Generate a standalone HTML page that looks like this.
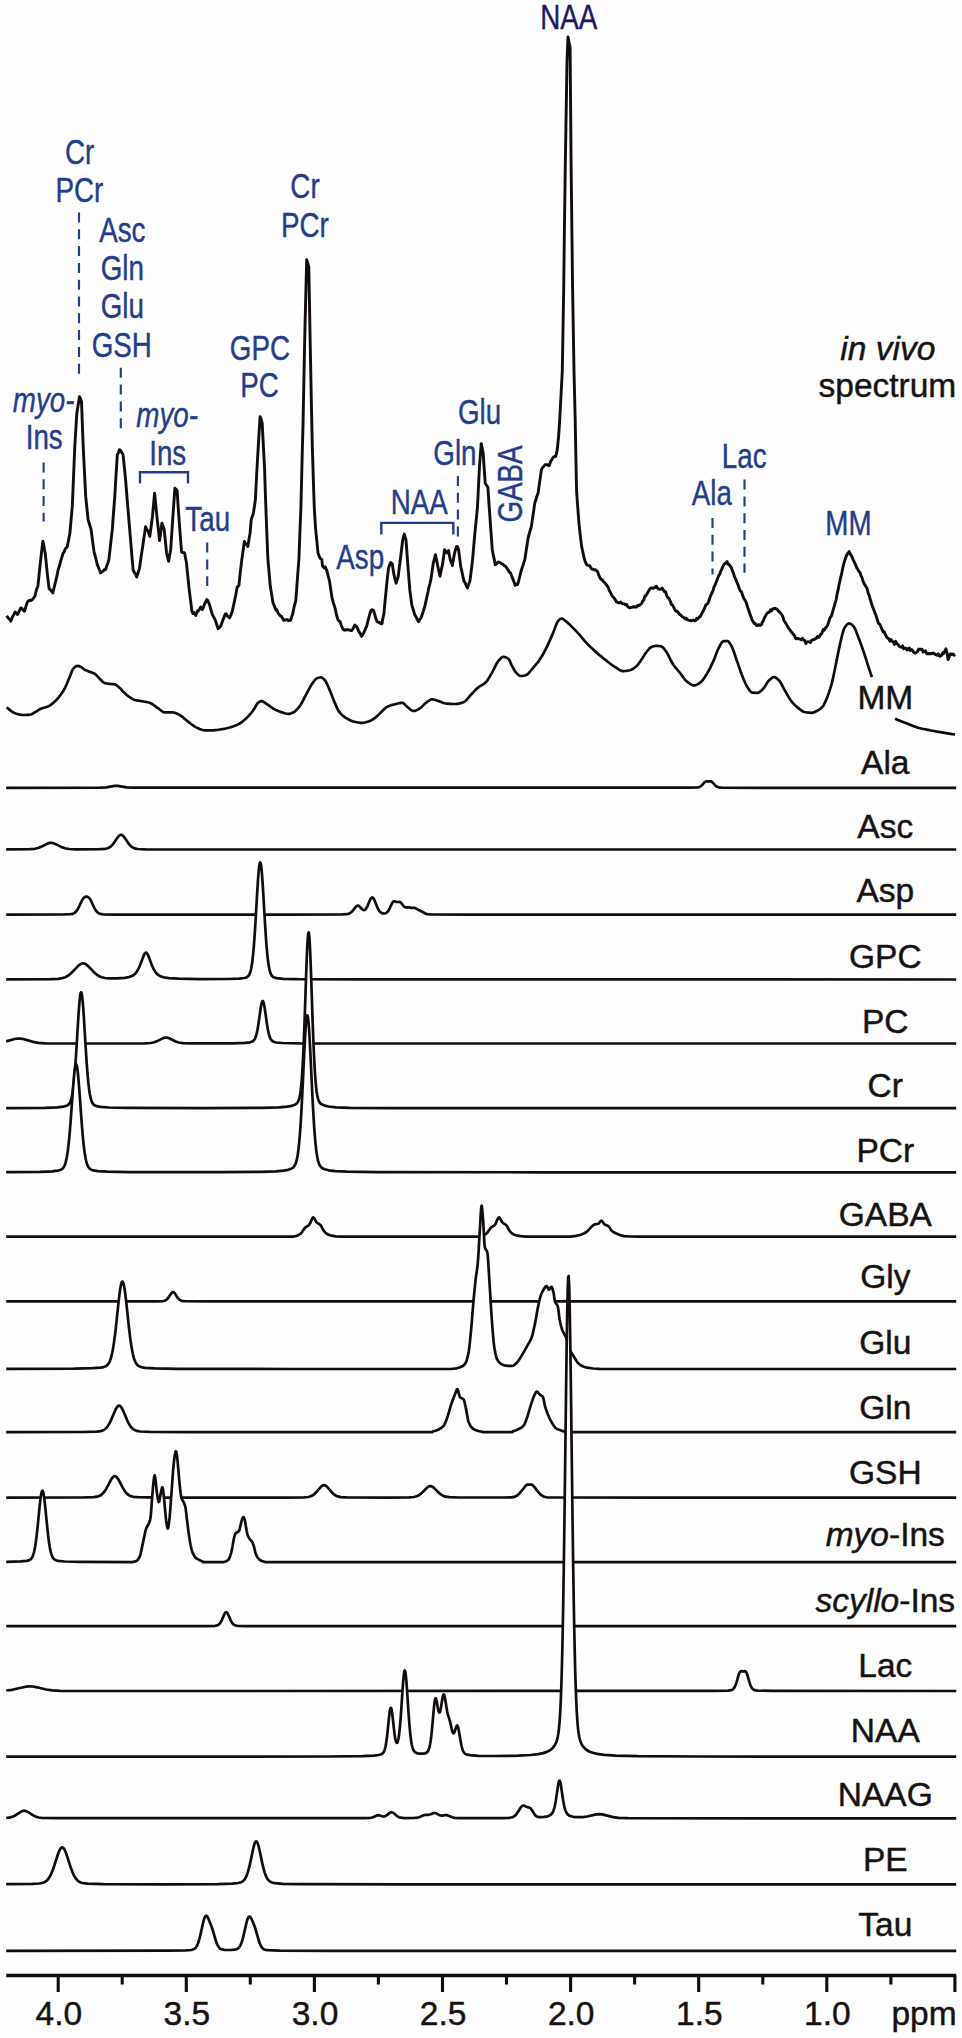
<!DOCTYPE html>
<html><head><meta charset="utf-8"><title>in vivo spectrum</title>
<style>
html,body{margin:0;padding:0;background:#fdfdfd;}
svg{display:block}
text{font-family:"Liberation Sans",Arial,Helvetica,sans-serif;}
.k{font-size:33.5px;fill:#161212;stroke:#161212;stroke-width:0.45;text-anchor:middle}
.b{font-size:34.5px;fill:#223e8b;stroke:#223e8b;stroke-width:0.4;text-anchor:middle}
.c{fill:none;stroke:#120c0c;stroke-width:2.7;stroke-linejoin:round;stroke-linecap:butt}
.f{fill:#fdfdfd}
.d{fill:none;stroke:#223e8b;stroke-width:2.15;stroke-dasharray:10 6.8}
.s{fill:none;stroke:#223e8b;stroke-width:2.4}
i{font-style:italic}
</style></head><body>
<svg width="962" height="2038" viewBox="0 0 962 2038">
<rect width="962" height="2038" fill="#fdfdfd"/>
<path class="c" style="stroke-width:2.9" d="M6.7,615.8 L7.8,617.5 L9.0,618.7 L10.1,619.9 L10.8,621.2 L12.4,617.1 L13.6,615.1 L15.0,612.0 L15.9,612.7 L17.5,614.5 L18.2,613.3 L19.3,611.0 L20.8,607.9 L21.6,608.2 L22.8,609.6 L23.9,611.0 L24.6,611.2 L26.2,605.5 L27.4,602.0 L28.5,600.9 L29.7,600.2 L30.8,600.6 L31.6,600.4 L33.1,598.6 L34.3,597.0 L34.9,596.2 L36.6,589.3 L37.9,586.2 L38.9,576.7 L40.0,565.8 L40.7,559.6 L42.3,545.7 L42.9,541.3 L43.5,543.6 L44.6,550.2 L45.2,553.0 L45.8,558.9 L47.4,574.6 L48.1,580.4 L49.1,588.7 L50.4,589.7 L51.5,591.3 L52.9,592.9 L53.8,589.0 L55.0,583.7 L55.7,581.2 L57.3,574.3 L58.2,569.6 L59.6,565.3 L60.7,561.2 L61.9,557.1 L63.2,553.0 L64.2,552.0 L65.3,548.6 L66.5,547.8 L67.4,546.3 L68.8,538.8 L69.9,533.0 L71.1,519.7 L72.3,506.4 L73.4,480.0 L74.8,446.5 L75.7,431.6 L76.8,413.3 L78.0,405.9 L79.5,396.6 L80.3,398.1 L81.5,401.6 L82.6,430.7 L83.2,446.5 L84.9,480.4 L85.7,496.4 L87.2,511.0 L88.1,519.7 L89.5,524.2 L91.1,529.7 L91.8,534.9 L92.9,543.5 L94.0,551.3 L95.2,556.2 L96.4,560.9 L97.3,564.6 L98.7,568.0 L99.8,570.8 L100.6,572.9 L102.1,571.8 L103.3,571.0 L104.4,569.5 L105.6,569.6 L106.7,566.0 L107.9,563.0 L108.9,559.6 L110.2,548.2 L111.3,538.1 L112.3,529.7 L113.6,511.7 L114.8,496.4 L115.9,477.3 L117.3,454.8 L118.2,453.3 L119.4,449.8 L120.1,449.9 L121.7,452.3 L123.1,454.8 L124.0,463.8 L125.6,479.8 L126.3,488.3 L127.4,502.3 L128.6,516.3 L129.7,529.7 L130.9,543.8 L132.0,557.3 L133.1,569.6 L134.3,572.6 L135.5,573.8 L136.7,577.1 L137.8,573.7 L139.4,568.8 L140.1,564.0 L141.2,556.2 L142.7,546.4 L143.5,540.7 L144.7,532.9 L145.6,526.8 L147.0,529.9 L148.1,531.0 L149.8,536.4 L150.4,531.7 L151.6,523.0 L152.4,517.0 L153.9,500.7 L154.6,493.1 L156.2,509.3 L156.9,516.4 L158.5,530.7 L159.6,540.5 L160.8,531.4 L161.9,523.1 L163.1,526.2 L164.1,528.9 L165.4,541.4 L166.6,553.0 L167.7,557.9 L168.6,561.3 L170.0,553.6 L170.7,549.7 L172.3,525.5 L172.9,516.4 L174.9,488.2 L175.7,489.0 L177.1,490.6 L178.0,504.5 L179.1,519.8 L180.3,536.0 L181.6,552.2 L182.6,552.5 L183.8,552.5 L184.6,553.0 L186.5,563.0 L187.2,570.5 L188.4,581.9 L189.0,587.9 L190.7,601.6 L191.9,611.2 L193.0,613.5 L194.1,612.5 L195.7,615.4 L196.4,613.6 L197.6,610.8 L198.2,611.2 L199.9,608.4 L200.7,607.1 L202.3,609.6 L203.3,607.6 L204.5,604.3 L205.6,602.0 L206.8,599.6 L207.9,600.8 L209.5,604.6 L210.2,607.1 L211.4,611.5 L212.3,614.6 L213.7,617.0 L214.8,619.1 L215.7,621.2 L217.1,625.6 L218.1,628.7 L219.4,627.4 L220.6,626.2 L221.7,623.4 L223.1,619.5 L224.0,617.2 L225.2,614.3 L226.1,613.7 L227.5,616.2 L228.6,616.7 L229.5,617.9 L230.9,615.1 L232.3,611.2 L233.2,607.1 L234.8,599.6 L235.5,596.4 L236.7,589.7 L237.3,587.1 L238.9,585.4 L240.1,574.2 L241.4,563.0 L242.4,555.4 L243.6,546.8 L244.4,541.4 L245.9,544.3 L247.0,544.5 L247.8,546.4 L249.3,537.4 L250.1,533.1 L251.2,519.8 L252.8,515.0 L253.4,513.1 L255.4,499.8 L256.2,483.2 L257.1,466.5 L258.5,442.4 L260.1,416.6 L260.8,418.2 L262.2,423.3 L263.1,441.1 L264.5,466.5 L265.4,494.4 L266.2,516.4 L267.8,558.0 L268.9,570.5 L270.3,586.3 L271.2,591.8 L272.3,598.6 L273.0,602.9 L274.6,606.5 L275.8,610.1 L276.9,609.7 L278.0,612.9 L279.2,614.4 L280.4,616.0 L281.5,616.3 L282.7,618.6 L283.8,620.4 L285.0,620.0 L286.1,619.8 L287.2,619.5 L288.4,620.7 L289.6,620.0 L290.6,620.3 L291.9,616.2 L292.7,614.1 L294.2,606.5 L295.8,600.7 L296.5,591.4 L297.6,576.1 L298.9,559.5 L299.9,532.4 L300.9,507.9 L302.2,454.9 L303.0,425.5 L304.5,349.4 L305.1,322.4 L305.7,298.9 L306.7,259.6 L308.0,264.1 L308.8,266.8 L310.2,343.1 L311.4,404.4 L312.3,446.1 L313.7,491.0 L314.3,508.0 L314.9,517.8 L315.5,527.6 L317.4,546.7 L318.0,553.1 L319.5,557.0 L320.6,558.7 L321.8,559.4 L322.5,565.8 L324.1,568.0 L325.2,566.9 L326.9,570.9 L327.5,573.4 L328.7,578.0 L329.5,581.1 L331.0,591.1 L332.0,597.7 L333.3,602.6 L334.6,606.6 L335.6,610.6 L336.7,615.7 L337.8,619.4 L339.0,621.1 L340.2,621.8 L341.0,624.5 L342.5,628.3 L343.5,629.6 L344.8,630.2 L345.9,629.8 L347.4,629.8 L348.2,629.8 L349.4,630.0 L350.5,630.4 L351.6,630.6 L352.8,629.0 L354.0,626.6 L354.9,625.1 L356.3,626.3 L357.4,628.1 L358.6,630.9 L359.9,633.1 L360.9,634.8 L361.6,636.4 L363.2,633.7 L364.1,632.3 L365.5,628.7 L366.6,626.4 L367.8,621.6 L369.1,616.5 L370.1,612.9 L371.2,610.1 L372.4,609.7 L373.6,610.6 L374.7,614.3 L375.7,618.1 L377.0,621.5 L378.2,622.3 L379.3,622.3 L380.4,623.4 L381.9,623.9 L382.7,619.2 L384.0,613.1 L385.0,601.9 L386.5,586.5 L387.3,578.7 L388.5,568.2 L389.6,565.1 L390.2,563.2 L390.8,562.5 L392.3,564.1 L393.1,569.6 L394.0,574.9 L395.4,580.6 L396.2,583.2 L398.2,576.5 L398.8,571.3 L400.0,562.2 L400.7,556.6 L402.7,540.0 L403.4,536.8 L404.3,534.1 L406.0,540.0 L406.9,552.1 L407.6,561.6 L409.2,582.2 L409.8,589.9 L411.8,604.8 L412.6,607.6 L413.8,611.5 L414.8,614.8 L416.1,617.0 L417.2,619.3 L418.6,621.8 L419.5,620.0 L420.7,618.4 L421.5,616.5 L423.0,612.2 L424.1,608.5 L424.8,606.5 L426.4,599.1 L428.1,591.5 L428.7,588.1 L429.9,583.8 L431.1,578.2 L432.2,570.6 L433.3,563.0 L434.5,558.3 L435.5,554.7 L436.8,561.4 L437.5,564.7 L439.1,572.2 L440.0,576.3 L441.4,569.4 L442.5,564.7 L443.7,556.1 L444.6,549.7 L446.0,551.8 L446.9,553.0 L448.6,550.5 L449.4,555.5 L450.3,559.7 L451.7,563.3 L452.4,565.5 L454.0,556.1 L454.6,553.0 L455.2,550.9 L456.6,546.4 L457.5,546.8 L458.6,549.7 L459.8,559.2 L460.7,566.3 L462.1,572.6 L463.2,577.9 L464.1,581.3 L465.5,583.6 L466.7,586.6 L467.4,587.9 L469.0,583.5 L469.9,581.3 L471.3,570.1 L472.4,561.3 L473.6,547.8 L474.9,533.1 L475.9,523.1 L477.4,508.1 L478.2,492.3 L479.5,466.5 L480.5,453.0 L481.2,443.6 L483.2,453.2 L483.9,464.4 L485.2,483.2 L486.2,484.7 L487.9,487.3 L488.5,496.8 L489.9,516.4 L490.8,529.6 L492.3,549.7 L493.1,554.1 L494.3,559.6 L495.2,564.7 L496.6,564.0 L497.7,562.2 L499.0,562.2 L500.0,562.5 L501.2,563.5 L502.3,563.8 L503.2,564.7 L504.6,565.9 L505.8,566.5 L507.3,568.8 L508.1,569.8 L509.2,572.0 L510.6,573.0 L511.5,575.5 L513.1,579.6 L513.8,581.4 L515.1,585.4 L516.1,584.1 L517.3,584.8 L518.1,583.0 L519.6,577.2 L520.7,572.5 L521.5,569.6 L523.0,565.2 L524.2,561.4 L524.8,559.7 L526.5,548.5 L528.1,538.0 L528.8,535.5 L529.9,531.5 L531.4,526.4 L532.2,520.6 L533.4,512.7 L534.8,503.1 L535.7,500.6 L536.8,496.5 L538.1,493.1 L539.1,485.7 L540.3,477.6 L541.4,469.9 L542.6,467.6 L543.7,466.5 L544.9,464.8 L545.6,464.9 L547.2,464.6 L548.3,465.0 L548.9,465.7 L549.5,464.9 L550.6,461.5 L552.2,459.0 L552.9,457.7 L554.1,456.6 L555.6,456.5 L556.4,453.9 L557.2,449.9 L558.6,436.6 L559.7,420.0 L561.0,395.5 L562.3,371.0 L563.7,288.5 L564.4,230.6 L565.3,164.9 L567.0,61.8 L568.0,37.0 L569.0,42.2 L570.1,47.4 L571.1,164.9 L572.6,288.5 L574.0,371.0 L575.2,420.0 L575.9,458.3 L576.6,491.5 L578.2,513.4 L579.1,524.7 L580.5,537.3 L581.6,546.4 L582.8,551.7 L584.1,558.0 L585.1,561.3 L586.6,564.7 L587.4,565.1 L588.6,565.6 L589.7,565.8 L590.9,567.9 L591.6,568.8 L593.2,569.4 L594.3,569.9 L595.5,569.6 L596.6,570.9 L597.4,571.3 L598.9,575.4 L600.1,578.1 L601.6,579.6 L602.4,579.9 L603.5,581.8 L604.7,582.7 L605.8,583.9 L607.4,586.3 L608.1,587.0 L609.3,590.6 L610.4,592.3 L611.6,594.9 L612.4,596.3 L613.9,597.8 L615.0,599.3 L616.5,602.1 L617.3,601.9 L618.5,602.8 L619.6,602.8 L620.8,602.0 L621.9,603.5 L623.2,603.7 L624.2,603.9 L625.4,604.9 L626.5,604.2 L627.7,606.6 L628.8,607.4 L629.8,607.9 L631.1,607.4 L632.3,607.3 L633.4,606.7 L634.6,607.1 L635.7,606.7 L636.5,607.1 L638.0,605.1 L639.2,605.5 L640.3,604.6 L641.5,603.7 L642.6,601.3 L643.8,600.0 L644.9,596.1 L645.6,596.3 L647.2,593.5 L648.4,591.5 L649.8,588.8 L650.7,588.0 L651.8,588.0 L653.0,588.4 L654.1,587.9 L655.6,587.1 L656.4,586.2 L657.6,588.2 L658.7,589.1 L659.9,589.3 L661.0,589.1 L662.2,588.1 L663.1,589.6 L664.5,591.8 L665.6,591.8 L666.8,596.0 L668.1,597.9 L669.1,598.5 L670.2,601.0 L671.4,604.4 L672.5,605.0 L673.1,606.2 L673.7,607.2 L674.8,609.8 L676.0,611.2 L677.1,611.3 L678.3,612.6 L679.7,614.6 L680.6,614.6 L681.7,616.3 L682.9,617.0 L684.0,617.5 L685.2,619.0 L686.3,618.3 L687.5,619.7 L688.6,620.4 L689.8,620.4 L690.9,620.9 L692.1,620.5 L693.2,620.0 L694.4,620.7 L695.8,620.5 L696.7,618.3 L697.8,619.0 L699.0,617.3 L700.1,616.5 L700.8,615.6 L702.4,612.4 L703.6,610.2 L704.7,607.9 L705.9,604.8 L707.4,603.9 L708.2,602.7 L709.3,599.5 L710.5,596.0 L711.6,593.7 L713.3,589.8 L713.9,587.1 L715.1,585.0 L716.2,582.1 L717.4,579.1 L718.3,576.5 L719.7,574.3 L720.8,571.1 L722.0,568.6 L723.2,565.7 L724.3,564.1 L725.4,563.2 L727.1,561.5 L727.7,564.0 L728.9,564.1 L730.0,565.9 L731.6,568.2 L732.3,570.7 L733.5,573.3 L734.6,577.0 L735.8,579.3 L736.5,581.5 L738.1,584.9 L739.2,588.3 L740.4,591.1 L741.5,591.7 L742.4,594.8 L743.8,598.4 L745.0,600.3 L746.1,602.3 L747.4,606.4 L748.4,609.6 L749.6,612.9 L750.7,615.9 L752.3,620.5 L753.0,621.2 L754.2,623.6 L755.3,623.4 L756.5,625.5 L757.6,625.5 L758.8,624.6 L759.9,625.5 L761.5,624.7 L762.2,622.3 L763.4,620.6 L764.5,617.8 L765.7,615.6 L766.8,613.7 L768.0,612.5 L769.1,612.4 L770.6,609.7 L771.4,611.0 L772.6,609.0 L773.7,608.8 L775.1,608.1 L776.0,608.8 L777.2,609.2 L778.3,611.0 L779.8,612.2 L780.6,613.1 L781.8,614.6 L782.9,616.9 L784.1,620.7 L785.6,623.0 L786.4,624.2 L787.5,626.3 L788.7,628.4 L789.8,629.5 L791.4,632.2 L792.1,632.5 L793.3,634.4 L794.4,635.4 L795.6,638.6 L796.4,638.8 L797.9,638.4 L799.0,638.9 L800.2,639.1 L801.3,640.0 L802.5,638.3 L803.1,639.7 L804.8,640.5 L805.9,643.6 L807.0,642.2 L808.2,641.6 L809.4,641.9 L810.5,642.5 L811.7,640.2 L812.8,639.7 L813.6,639.7 L815.1,638.9 L816.3,638.2 L817.4,636.4 L818.6,637.5 L819.7,636.5 L820.3,634.7 L820.9,634.4 L822.0,633.0 L823.2,629.4 L824.3,630.1 L825.5,628.0 L826.9,626.4 L827.8,624.8 L828.9,621.3 L830.1,617.6 L831.2,616.3 L831.9,614.7 L833.5,608.7 L834.7,604.6 L836.1,599.8 L837.0,594.4 L838.1,589.9 L839.4,583.1 L840.4,578.7 L841.6,573.9 L842.7,568.2 L843.9,563.4 L845.0,559.8 L846.1,556.5 L847.3,554.0 L848.5,552.6 L849.1,551.5 L850.8,554.8 L851.9,556.5 L853.1,559.5 L854.2,561.9 L855.4,564.4 L856.9,568.2 L857.7,569.2 L858.8,571.3 L860.0,572.5 L861.1,575.9 L861.9,577.3 L863.4,582.2 L864.6,584.2 L865.7,586.2 L866.9,588.1 L868.0,592.4 L869.2,595.7 L870.3,599.5 L871.9,604.7 L872.6,606.8 L873.8,609.7 L874.9,612.9 L876.1,615.7 L876.8,618.0 L878.4,623.3 L879.5,623.9 L880.7,626.2 L881.8,628.9 L883.0,631.7 L884.1,631.6 L885.3,634.5 L886.8,637.2 L887.6,638.1 L888.7,638.8 L889.9,641.2 L891.0,639.6 L892.2,641.3 L893.5,642.2 L894.5,644.4 L895.6,641.3 L896.8,643.5 L897.9,644.3 L899.1,646.3 L900.2,646.9 L901.8,647.2 L902.5,645.8 L903.7,648.8 L904.8,648.1 L906.0,648.1 L907.1,649.9 L908.3,648.8 L909.4,648.0 L910.1,650.5 L911.7,649.6 L912.9,651.0 L914.0,652.6 L915.2,653.0 L915.9,653.0 L917.5,651.5 L918.6,649.1 L920.1,649.6 L920.9,649.1 L922.1,649.5 L923.2,652.1 L924.4,651.6 L925.5,650.9 L926.7,653.8 L927.8,653.5 L929.0,653.9 L930.1,653.5 L931.3,653.9 L932.4,653.2 L933.4,653.0 L934.7,654.1 L935.9,654.7 L937.0,655.3 L938.2,653.8 L939.3,655.8 L940.0,656.3 L941.6,655.3 L942.8,652.7 L943.4,653.8 L945.1,650.5 L945.9,648.8 L947.4,654.6 L948.0,659.6 L950.0,654.6 L950.8,653.8 L952.0,654.7 L953.1,653.9 L954.3,655.2 L955.0,654.6"/>
<path class="c" d="M6.7,707.2 L7.7,708.2 L8.7,709.1 L9.7,709.9 L10.7,710.7 L11.7,711.4 L12.7,712.0 L13.7,712.6 L14.7,713.1 L15.7,713.5 L16.7,713.8 L17.7,714.1 L18.7,714.3 L19.7,714.6 L20.7,714.8 L21.7,714.9 L22.7,715.0 L23.7,715.0 L24.7,715.0 L25.7,715.0 L26.7,714.9 L27.7,714.9 L28.7,714.8 L29.7,714.7 L30.7,714.5 L31.7,714.2 L32.7,713.6 L33.7,713.0 L34.7,712.4 L35.7,711.8 L36.7,711.2 L37.7,710.6 L38.7,709.9 L39.7,709.3 L40.7,708.8 L41.7,708.4 L42.7,708.0 L43.7,707.7 L44.7,707.5 L45.7,707.2 L46.7,706.9 L47.7,706.6 L48.7,706.2 L49.7,705.6 L50.7,704.9 L51.7,704.2 L52.7,703.4 L53.7,702.5 L54.7,701.6 L55.7,700.6 L56.7,699.6 L57.7,698.5 L58.7,697.3 L59.7,696.0 L60.7,694.7 L61.7,693.3 L62.7,691.7 L63.7,690.1 L64.7,688.3 L65.7,686.4 L66.7,684.2 L67.7,681.8 L68.7,679.3 L69.7,676.9 L70.7,674.4 L71.7,671.8 L72.7,669.6 L73.7,668.3 L74.7,667.3 L75.7,666.5 L76.7,666.0 L77.7,665.9 L78.7,666.1 L79.7,666.4 L80.7,666.8 L81.7,667.4 L82.7,668.2 L83.7,669.0 L84.7,669.7 L85.7,670.2 L86.7,670.6 L87.7,671.0 L88.7,671.4 L89.7,671.8 L90.7,672.1 L91.7,672.5 L92.7,672.9 L93.7,673.3 L94.7,673.8 L95.7,674.6 L96.7,675.5 L97.7,676.7 L98.7,677.8 L99.7,678.8 L100.7,679.8 L101.7,680.8 L102.7,681.8 L103.7,682.6 L104.7,683.1 L105.7,683.3 L106.7,683.5 L107.7,683.6 L108.7,683.8 L109.7,683.9 L110.7,684.0 L111.7,684.1 L112.7,684.1 L113.7,684.2 L114.7,684.4 L115.7,684.7 L116.7,685.4 L117.7,686.2 L118.7,687.0 L119.7,687.9 L120.7,688.9 L121.7,690.0 L122.7,691.1 L123.7,692.1 L124.7,693.1 L125.7,694.0 L126.7,694.9 L127.7,695.7 L128.7,696.5 L129.7,697.2 L130.7,697.9 L131.7,698.5 L132.7,699.1 L133.7,699.6 L134.7,700.0 L135.7,700.2 L136.7,700.4 L137.7,700.6 L138.7,700.7 L139.7,700.8 L140.7,701.0 L141.7,701.2 L142.7,701.3 L143.7,701.5 L144.7,701.7 L145.7,701.9 L146.7,702.0 L147.7,702.3 L148.7,702.5 L149.7,702.8 L150.7,703.2 L151.7,703.7 L152.7,704.3 L153.7,705.1 L154.7,705.8 L155.7,706.6 L156.7,707.4 L157.7,708.0 L158.7,708.7 L159.7,709.5 L160.7,710.3 L161.7,711.1 L162.7,711.7 L163.7,712.2 L164.7,712.4 L165.7,712.4 L166.7,712.4 L167.7,712.4 L168.7,712.4 L169.7,712.4 L170.7,712.4 L171.7,712.4 L172.7,712.4 L173.7,712.5 L174.7,712.8 L175.7,713.1 L176.7,713.5 L177.7,714.0 L178.7,714.4 L179.7,714.9 L180.7,715.6 L181.7,716.3 L182.7,717.1 L183.7,718.0 L184.7,718.9 L185.7,719.7 L186.7,720.6 L187.7,721.3 L188.7,722.1 L189.7,722.9 L190.7,723.7 L191.7,724.5 L192.7,725.2 L193.7,725.9 L194.7,726.6 L195.7,727.1 L196.7,727.6 L197.7,728.1 L198.7,728.5 L199.7,729.0 L200.7,729.4 L201.7,729.7 L202.7,730.0 L203.7,730.2 L204.7,730.3 L205.7,730.3 L206.7,730.3 L207.7,730.3 L208.7,730.3 L209.7,730.3 L210.7,730.3 L211.7,730.3 L212.7,730.3 L213.7,730.3 L214.7,730.2 L215.7,730.1 L216.7,730.0 L217.7,729.9 L218.7,729.7 L219.7,729.5 L220.7,729.4 L221.7,729.2 L222.7,729.0 L223.7,728.9 L224.7,728.7 L225.7,728.5 L226.7,728.2 L227.7,728.0 L228.7,727.7 L229.7,727.5 L230.7,727.2 L231.7,726.9 L232.7,726.5 L233.7,726.2 L234.7,725.8 L235.7,725.5 L236.7,725.1 L237.7,724.6 L238.7,724.1 L239.7,723.5 L240.7,722.9 L241.7,722.1 L242.7,721.4 L243.7,720.5 L244.7,719.7 L245.7,718.8 L246.7,717.9 L247.7,716.9 L248.7,715.9 L249.7,714.7 L250.7,713.5 L251.7,712.3 L252.7,711.0 L253.7,709.6 L254.7,708.0 L255.7,706.2 L256.7,704.5 L257.7,703.1 L258.7,702.3 L259.7,701.7 L260.7,701.2 L261.7,701.1 L262.7,701.4 L263.7,701.9 L264.7,702.6 L265.7,703.3 L266.7,704.1 L267.7,704.7 L268.7,705.4 L269.7,706.1 L270.7,706.8 L271.7,707.5 L272.7,708.2 L273.7,708.9 L274.7,709.4 L275.7,709.9 L276.7,710.3 L277.7,710.8 L278.7,711.2 L279.7,711.6 L280.7,711.9 L281.7,712.2 L282.7,712.6 L283.7,712.9 L284.7,713.2 L285.7,713.5 L286.7,713.7 L287.7,713.9 L288.7,713.9 L289.7,713.8 L290.7,713.5 L291.7,713.1 L292.7,712.7 L293.7,712.3 L294.7,711.6 L295.7,710.8 L296.7,709.7 L297.7,708.6 L298.7,707.4 L299.7,706.1 L300.7,704.7 L301.7,703.0 L302.7,701.1 L303.7,699.1 L304.7,697.2 L305.7,695.3 L306.7,693.4 L307.7,691.5 L308.7,689.6 L309.7,687.8 L310.7,686.0 L311.7,684.4 L312.7,683.0 L313.7,681.6 L314.7,680.3 L315.7,679.1 L316.7,678.4 L317.7,678.0 L318.7,677.7 L319.7,677.5 L320.7,677.4 L321.7,677.6 L322.7,678.2 L323.7,679.0 L324.7,680.0 L325.7,681.4 L326.7,683.3 L327.7,685.5 L328.7,687.8 L329.7,690.1 L330.7,692.5 L331.7,695.1 L332.7,697.7 L333.7,700.3 L334.7,702.6 L335.7,704.9 L336.7,707.2 L337.7,709.3 L338.7,711.1 L339.7,712.5 L340.7,713.6 L341.7,714.7 L342.7,715.6 L343.7,716.4 L344.7,717.1 L345.7,717.8 L346.7,718.4 L347.7,718.9 L348.7,719.5 L349.7,720.0 L350.7,720.5 L351.7,720.9 L352.7,721.3 L353.7,721.6 L354.7,721.8 L355.7,722.0 L356.7,722.2 L357.7,722.4 L358.7,722.5 L359.7,722.7 L360.7,722.8 L361.7,722.8 L362.7,722.8 L363.7,722.7 L364.7,722.5 L365.7,722.3 L366.7,722.0 L367.7,721.7 L368.7,721.4 L369.7,721.0 L370.7,720.6 L371.7,720.1 L372.7,719.5 L373.7,718.8 L374.7,718.1 L375.7,717.4 L376.7,716.5 L377.7,715.6 L378.7,714.6 L379.7,713.6 L380.7,712.6 L381.7,711.6 L382.7,710.6 L383.7,709.6 L384.7,708.7 L385.7,707.8 L386.7,707.1 L387.7,706.6 L388.7,706.2 L389.7,705.8 L390.7,705.4 L391.7,705.1 L392.7,704.8 L393.7,704.6 L394.7,704.3 L395.7,704.1 L396.7,703.8 L397.7,703.5 L398.7,703.3 L399.7,703.1 L400.7,702.9 L401.7,702.8 L402.7,702.9 L403.7,703.4 L404.7,704.3 L405.7,705.4 L406.7,706.4 L407.7,707.2 L408.7,708.0 L409.7,708.9 L410.7,709.8 L411.7,710.4 L412.7,710.9 L413.7,711.0 L414.7,710.9 L415.7,710.6 L416.7,710.1 L417.7,709.6 L418.7,709.1 L419.7,708.5 L420.7,707.8 L421.7,706.9 L422.7,705.9 L423.7,704.9 L424.7,703.9 L425.7,703.0 L426.7,702.3 L427.7,701.5 L428.7,700.8 L429.7,700.1 L430.7,699.6 L431.7,699.3 L432.7,699.3 L433.7,699.5 L434.7,699.7 L435.7,700.1 L436.7,700.4 L437.7,700.8 L438.7,701.1 L439.7,701.4 L440.7,701.8 L441.7,702.3 L442.7,702.7 L443.7,703.0 L444.7,703.3 L445.7,703.5 L446.7,703.6 L447.7,703.7 L448.7,703.7 L449.7,703.8 L450.7,703.9 L451.7,703.9 L452.7,704.0 L453.7,704.0 L454.7,704.0 L455.7,704.0 L456.7,703.9 L457.7,703.8 L458.7,703.6 L459.7,703.4 L460.7,703.1 L461.7,702.8 L462.7,702.5 L463.7,702.2 L464.7,701.6 L465.7,700.7 L466.7,699.7 L467.7,698.5 L468.7,697.3 L469.7,696.1 L470.7,695.0 L471.7,694.0 L472.7,692.9 L473.7,691.9 L474.7,690.8 L475.7,689.8 L476.7,688.8 L477.7,687.9 L478.7,687.1 L479.7,686.4 L480.7,685.7 L481.7,685.2 L482.7,684.6 L483.7,684.0 L484.7,683.2 L485.7,682.4 L486.7,681.3 L487.7,679.9 L488.7,678.3 L489.7,676.6 L490.7,674.8 L491.7,673.1 L492.7,671.3 L493.7,669.4 L494.7,667.3 L495.7,665.3 L496.7,663.5 L497.7,661.9 L498.7,660.6 L499.7,659.5 L500.7,658.4 L501.7,657.5 L502.7,657.0 L503.7,656.9 L504.7,657.1 L505.7,657.3 L506.7,657.7 L507.7,658.3 L508.7,659.0 L509.7,660.7 L510.7,663.1 L511.7,665.4 L512.7,667.2 L513.7,669.0 L514.7,670.7 L515.7,672.1 L516.7,673.2 L517.7,674.2 L518.7,675.1 L519.7,675.8 L520.7,676.0 L521.7,676.0 L522.7,675.9 L523.7,675.7 L524.7,675.5 L525.7,675.3 L526.7,674.8 L527.7,674.1 L528.7,673.1 L529.7,672.0 L530.7,670.7 L531.7,669.5 L532.7,668.3 L533.7,667.1 L534.7,666.0 L535.7,664.8 L536.7,663.6 L537.7,662.4 L538.7,661.1 L539.7,659.6 L540.7,658.1 L541.7,656.5 L542.7,654.8 L543.7,653.0 L544.7,651.1 L545.7,649.2 L546.7,647.2 L547.7,645.1 L548.7,642.9 L549.7,640.7 L550.7,638.4 L551.7,636.1 L552.7,633.7 L553.7,631.3 L554.7,628.6 L555.7,625.9 L556.7,623.4 L557.7,621.6 L558.7,620.4 L559.7,619.4 L560.7,618.7 L561.7,618.5 L562.7,618.8 L563.7,619.5 L564.7,620.3 L565.7,621.1 L566.7,621.9 L567.7,622.8 L568.7,623.7 L569.7,624.6 L570.7,625.6 L571.7,626.6 L572.7,627.6 L573.7,628.6 L574.7,629.6 L575.7,630.6 L576.7,631.7 L577.7,632.8 L578.7,633.9 L579.7,635.0 L580.7,636.1 L581.7,637.3 L582.7,638.6 L583.7,639.8 L584.7,641.0 L585.7,642.1 L586.7,643.1 L587.7,644.2 L588.7,645.2 L589.7,646.2 L590.7,647.2 L591.7,648.1 L592.7,649.1 L593.7,650.0 L594.7,650.9 L595.7,651.8 L596.7,652.7 L597.7,653.6 L598.7,654.4 L599.7,655.3 L600.7,656.1 L601.7,656.9 L602.7,657.7 L603.7,658.6 L604.7,659.3 L605.7,660.1 L606.7,660.9 L607.7,661.7 L608.7,662.5 L609.7,663.3 L610.7,664.0 L611.7,664.8 L612.7,665.5 L613.7,666.2 L614.7,666.8 L615.7,667.4 L616.7,668.1 L617.7,668.7 L618.7,669.4 L619.7,670.0 L620.7,670.5 L621.7,670.9 L622.7,671.1 L623.7,671.1 L624.7,671.0 L625.7,671.0 L626.7,670.8 L627.7,670.7 L628.7,670.5 L629.7,670.3 L630.7,670.0 L631.7,669.6 L632.7,669.0 L633.7,668.4 L634.7,667.6 L635.7,666.8 L636.7,665.9 L637.7,664.8 L638.7,663.6 L639.7,662.1 L640.7,660.7 L641.7,659.2 L642.7,657.7 L643.7,656.1 L644.7,654.5 L645.7,653.0 L646.7,651.8 L647.7,650.5 L648.7,649.3 L649.7,648.3 L650.7,647.4 L651.7,646.9 L652.7,646.6 L653.7,646.2 L654.7,646.0 L655.7,645.8 L656.7,645.8 L657.7,645.9 L658.7,646.0 L659.7,646.1 L660.7,646.3 L661.7,646.6 L662.7,647.3 L663.7,648.3 L664.7,649.6 L665.7,651.0 L666.7,652.4 L667.7,654.1 L668.7,656.0 L669.7,658.0 L670.7,660.1 L671.7,662.0 L672.7,663.8 L673.7,665.3 L674.7,666.6 L675.7,667.8 L676.7,669.0 L677.7,670.2 L678.7,671.3 L679.7,672.5 L680.7,673.8 L681.7,675.2 L682.7,676.6 L683.7,678.0 L684.7,679.3 L685.7,680.4 L686.7,681.3 L687.7,682.1 L688.7,682.9 L689.7,683.6 L690.7,684.3 L691.7,684.8 L692.7,685.2 L693.7,685.4 L694.7,685.4 L695.7,685.1 L696.7,684.7 L697.7,684.2 L698.7,683.6 L699.7,682.9 L700.7,682.2 L701.7,681.3 L702.7,680.2 L703.7,678.8 L704.7,677.3 L705.7,675.7 L706.7,674.1 L707.7,672.4 L708.7,670.7 L709.7,668.8 L710.7,666.8 L711.7,664.7 L712.7,662.6 L713.7,660.4 L714.7,657.9 L715.7,655.3 L716.7,652.6 L717.7,650.1 L718.7,648.0 L719.7,646.1 L720.7,644.2 L721.7,642.6 L722.7,641.5 L723.7,641.2 L724.7,641.1 L725.7,641.1 L726.7,641.0 L727.7,641.0 L728.7,641.7 L729.7,643.1 L730.7,644.7 L731.7,646.5 L732.7,648.6 L733.7,651.3 L734.7,654.3 L735.7,657.3 L736.7,660.2 L737.7,663.0 L738.7,666.0 L739.7,668.9 L740.7,671.8 L741.7,674.5 L742.7,677.0 L743.7,679.5 L744.7,681.8 L745.7,684.0 L746.7,686.0 L747.7,687.5 L748.7,689.1 L749.7,690.5 L750.7,691.7 L751.7,692.4 L752.7,692.6 L753.7,692.7 L754.7,692.8 L755.7,692.9 L756.7,692.9 L757.7,692.9 L758.7,692.5 L759.7,691.9 L760.7,691.1 L761.7,690.2 L762.7,689.2 L763.7,688.2 L764.7,686.8 L765.7,685.2 L766.7,683.5 L767.7,681.9 L768.7,680.7 L769.7,679.8 L770.7,678.9 L771.7,678.0 L772.7,677.4 L773.7,677.1 L774.7,677.2 L775.7,677.6 L776.7,678.3 L777.7,679.2 L778.7,680.1 L779.7,681.2 L780.7,682.7 L781.7,684.5 L782.7,686.4 L783.7,688.4 L784.7,690.2 L785.7,691.9 L786.7,693.7 L787.7,695.5 L788.7,697.2 L789.7,698.8 L790.7,700.3 L791.7,701.6 L792.7,702.8 L793.7,703.9 L794.7,704.9 L795.7,705.9 L796.7,706.8 L797.7,707.6 L798.7,708.4 L799.7,709.2 L800.7,709.9 L801.7,710.6 L802.7,711.2 L803.7,711.7 L804.7,712.0 L805.7,712.2 L806.7,712.4 L807.7,712.5 L808.7,712.6 L809.7,712.7 L810.7,712.8 L811.7,712.8 L812.7,712.7 L813.7,712.4 L814.7,712.0 L815.7,711.5 L816.7,711.0 L817.7,710.5 L818.7,709.9 L819.7,709.3 L820.7,708.5 L821.7,707.6 L822.7,706.6 L823.7,705.2 L824.7,703.2 L825.7,700.9 L826.7,698.4 L827.7,695.9 L828.7,693.2 L829.7,690.3 L830.7,687.1 L831.7,683.6 L832.7,679.7 L833.7,675.0 L834.7,670.0 L835.7,664.9 L836.7,660.1 L837.7,655.2 L838.7,650.2 L839.7,645.6 L840.7,641.3 L841.7,636.9 L842.7,632.8 L843.7,629.5 L844.7,627.5 L845.7,626.1 L846.7,624.8 L847.7,623.9 L848.7,623.4 L849.7,623.5 L850.7,623.9 L851.7,624.6 L852.7,625.5 L853.7,626.5 L854.7,628.1 L855.7,630.3 L856.7,632.9 L857.7,635.6 L858.7,638.3 L859.7,640.8 L860.7,643.4 L861.7,646.2 L862.7,649.0 L863.7,651.9 L864.7,655.0 L865.7,658.2 L866.7,661.4 L867.7,664.6 L868.7,667.6 L869.7,670.7 L870.7,673.6 L871.7,676.5 L871.9,677.1"/>
<path class="c" d="M895.1,718.7 L898.1,720.0 L901.1,721.2 L904.1,722.4 L907.1,723.6 L910.1,724.8 L913.1,726.0 L916.1,727.1 L919.1,728.0 L922.1,728.7 L925.1,729.3 L928.1,729.9 L931.1,730.5 L934.1,731.0 L937.1,731.6 L940.1,732.1 L943.1,732.6 L946.1,733.1 L949.1,733.6 L952.1,734.1 L955.0,734.5"/>
<path class="c f" d="M6.2,787.8 L100.2,787.7 L106.2,787.3 L114.7,785.9 L117.7,785.9 L126.7,787.4 L133.2,787.7 L689.7,787.7 L697.2,787.5 L699.2,787.1 L700.7,786.2 L702.2,784.9 L704.7,782.2 L705.7,781.5 L707.2,781.3 L710.7,781.3 L711.7,781.8 L712.7,782.6 L715.7,785.8 L717.2,786.8 L718.7,787.3 L721.7,787.6 L762.2,787.8 L956.2,787.8"/>
<path class="c f" d="M6.2,849.4 L29.7,849.2 L34.7,848.8 L38.2,848.0 L41.7,846.6 L47.7,843.5 L49.7,842.9 L51.7,842.8 L53.7,843.2 L56.7,844.6 L61.7,847.1 L65.2,848.3 L69.2,849.0 L76.2,849.3 L99.7,849.2 L105.2,848.8 L107.7,848.3 L109.7,847.3 L111.2,846.1 L112.7,844.6 L114.7,841.8 L117.7,837.3 L118.7,836.1 L119.7,835.2 L120.7,834.8 L121.7,834.9 L122.7,835.5 L123.7,836.5 L125.2,838.6 L128.2,843.1 L129.7,845.0 L131.2,846.5 L132.7,847.5 L134.7,848.4 L137.7,849.0 L145.2,849.3 L208.2,849.5 L956.2,849.5"/>
<path class="c f" d="M6.2,914.7 L62.7,914.5 L70.2,914.2 L72.7,913.8 L74.2,913.1 L75.7,911.9 L76.7,910.7 L77.7,909.2 L79.2,906.3 L81.7,901.0 L82.7,899.2 L83.7,897.9 L84.7,897.1 L85.7,896.7 L87.2,896.7 L88.2,897.2 L89.2,898.0 L90.2,899.3 L91.2,901.2 L94.2,907.6 L95.2,909.4 L96.2,910.9 L97.2,912.0 L98.7,913.2 L100.2,913.8 L103.2,914.3 L116.2,914.6 L289.2,914.7 L341.2,914.5 L346.7,914.2 L348.7,913.8 L350.2,913.0 L351.7,911.8 L353.2,910.1 L355.7,906.9 L356.7,906.0 L357.7,905.6 L358.7,905.9 L359.7,906.7 L362.2,909.3 L363.2,909.9 L364.2,910.1 L364.7,909.9 L365.2,909.6 L365.7,909.1 L366.7,907.6 L367.7,905.6 L369.7,900.7 L370.2,899.7 L370.7,898.7 L371.2,898.0 L371.7,897.6 L372.2,897.4 L372.7,897.6 L373.2,898.0 L373.7,898.8 L374.2,899.7 L375.2,902.1 L377.2,907.1 L378.2,909.2 L379.2,910.8 L380.2,912.0 L381.2,912.8 L382.7,913.4 L384.2,913.5 L385.7,913.2 L386.7,912.6 L387.7,911.6 L388.7,910.2 L389.7,908.3 L391.7,903.9 L392.2,903.0 L392.7,902.3 L393.2,901.7 L393.7,901.4 L394.2,901.3 L395.2,901.5 L396.7,902.0 L398.2,902.0 L399.7,901.9 L400.7,902.5 L401.7,903.6 L403.7,906.2 L404.7,907.0 L405.7,907.4 L408.7,907.4 L411.2,907.9 L414.2,907.8 L415.7,908.3 L418.7,910.1 L422.2,911.7 L425.2,913.5 L427.2,914.1 L430.7,914.5 L469.7,914.7 L956.2,914.7"/>
<path class="c f" d="M6.2,979.4 L50.7,979.1 L58.2,978.8 L62.2,978.1 L65.2,977.2 L67.7,975.9 L70.2,974.0 L73.2,971.1 L77.7,966.3 L79.7,964.6 L81.2,963.7 L82.7,963.3 L84.2,963.5 L85.7,964.1 L87.7,965.7 L90.7,968.8 L94.2,972.4 L96.7,974.6 L99.2,976.2 L101.7,977.3 L104.7,978.0 L109.2,978.4 L117.2,978.4 L124.7,977.8 L129.2,977.0 L131.7,976.1 L133.7,975.0 L135.2,973.7 L136.7,971.8 L138.2,969.3 L139.7,966.1 L141.2,962.3 L143.2,956.9 L144.2,954.6 L144.7,953.7 L145.2,953.1 L145.7,952.7 L146.2,952.7 L146.7,953.0 L147.2,953.6 L147.7,954.4 L148.7,956.6 L151.7,964.7 L153.2,968.2 L154.2,970.1 L155.7,972.4 L157.2,974.1 L158.7,975.3 L160.7,976.4 L163.7,977.3 L168.7,978.1 L178.2,978.7 L198.7,979.1 L227.2,979.0 L239.2,978.6 L244.2,978.0 L246.2,977.5 L247.7,976.6 L248.7,975.5 L249.2,974.7 L249.7,973.6 L250.2,972.3 L250.7,970.5 L251.2,968.3 L251.7,965.6 L252.2,962.2 L252.7,958.2 L253.2,953.4 L253.7,947.8 L254.2,941.5 L254.7,934.4 L255.2,926.7 L255.7,918.4 L257.2,892.5 L257.7,884.4 L258.2,877.1 L258.7,871.0 L259.2,866.3 L259.7,863.4 L260.2,862.4 L260.7,863.4 L261.2,866.3 L261.7,871.0 L262.2,877.1 L262.7,884.4 L263.2,892.5 L263.7,901.1 L264.7,918.4 L265.2,926.7 L265.7,934.4 L266.2,941.5 L266.7,947.8 L267.2,953.4 L267.7,958.2 L268.2,962.2 L268.7,965.6 L269.2,968.3 L269.7,970.5 L270.2,972.3 L270.7,973.7 L271.2,974.7 L271.7,975.5 L272.7,976.6 L274.2,977.5 L276.7,978.1 L283.2,978.8 L298.2,979.2 L362.2,979.4 L956.2,979.5"/>
<path class="c f" d="M6.2,1041.4 L14.7,1039.0 L17.7,1038.5 L20.7,1038.6 L24.2,1039.3 L33.2,1041.9 L38.2,1042.8 L45.2,1043.3 L79.7,1043.5 L144.7,1043.3 L150.7,1043.0 L154.2,1042.3 L157.2,1041.1 L163.2,1038.1 L165.2,1037.5 L167.2,1037.6 L169.2,1038.2 L175.7,1041.5 L178.7,1042.5 L182.7,1043.1 L191.7,1043.4 L232.7,1043.3 L245.2,1042.9 L250.2,1042.3 L252.2,1041.6 L253.2,1041.0 L254.2,1039.9 L254.7,1039.1 L255.2,1038.1 L255.7,1036.8 L256.2,1035.2 L256.7,1033.3 L257.2,1031.1 L257.7,1028.4 L258.2,1025.5 L258.7,1022.2 L260.2,1011.6 L260.7,1008.3 L261.2,1005.3 L261.7,1003.0 L262.2,1001.5 L262.7,1001.0 L263.2,1001.5 L263.7,1003.0 L264.2,1005.3 L264.7,1008.3 L265.2,1011.6 L266.7,1022.2 L267.2,1025.5 L267.7,1028.4 L268.2,1031.1 L268.7,1033.3 L269.2,1035.2 L269.7,1036.8 L270.2,1038.1 L270.7,1039.1 L271.2,1039.9 L272.2,1041.0 L273.7,1041.8 L276.2,1042.5 L282.7,1043.0 L300.2,1043.4 L481.2,1043.5 L956.2,1043.5"/>
<path class="c f" d="M6.2,1108.1 L44.7,1107.8 L57.2,1107.3 L63.2,1106.7 L66.2,1105.9 L67.7,1105.2 L68.7,1104.4 L69.2,1103.8 L69.7,1103.0 L70.2,1102.1 L70.7,1100.8 L71.2,1099.3 L71.7,1097.3 L72.2,1094.9 L72.7,1091.9 L73.2,1088.4 L73.7,1084.2 L74.2,1079.2 L74.7,1073.6 L75.2,1067.2 L75.7,1060.2 L76.2,1052.6 L76.7,1044.5 L77.7,1027.8 L78.2,1019.6 L78.7,1012.0 L79.2,1005.1 L79.7,999.5 L80.2,995.3 L80.7,992.8 L81.2,992.2 L81.7,993.6 L82.2,996.8 L82.7,1001.6 L83.2,1007.7 L83.7,1014.9 L84.2,1022.8 L85.7,1047.8 L86.2,1055.7 L86.7,1063.1 L87.2,1069.8 L87.7,1075.9 L88.2,1081.3 L88.7,1085.9 L89.2,1089.9 L89.7,1093.2 L90.2,1095.9 L90.7,1098.2 L91.2,1099.9 L91.7,1101.4 L92.2,1102.5 L92.7,1103.4 L93.7,1104.6 L94.7,1105.3 L96.7,1106.2 L100.7,1106.9 L108.7,1107.5 L127.2,1107.9 L204.2,1108.1 L262.2,1107.9 L279.2,1107.4 L287.2,1106.7 L291.7,1105.9 L294.7,1104.8 L296.2,1103.9 L297.2,1102.9 L297.7,1102.2 L298.2,1101.3 L298.7,1100.1 L299.2,1098.6 L299.7,1096.5 L300.2,1093.8 L300.7,1090.4 L301.2,1085.9 L301.7,1080.3 L302.2,1073.4 L302.7,1065.1 L303.2,1055.3 L303.7,1043.9 L304.2,1031.2 L304.7,1017.3 L305.2,1002.6 L305.7,987.7 L306.2,973.0 L306.7,959.4 L307.2,947.7 L307.7,938.9 L308.2,933.5 L308.7,932.3 L309.2,935.2 L309.7,942.0 L310.2,952.1 L310.7,964.7 L311.2,978.8 L312.2,1008.6 L312.7,1023.0 L313.2,1036.5 L313.7,1048.7 L314.2,1059.4 L314.7,1068.6 L315.2,1076.4 L315.7,1082.7 L316.2,1087.8 L316.7,1091.9 L317.2,1095.0 L317.7,1097.4 L318.2,1099.2 L318.7,1100.6 L319.2,1101.7 L319.7,1102.5 L320.7,1103.6 L322.2,1104.6 L324.7,1105.6 L328.7,1106.5 L335.7,1107.3 L349.7,1107.8 L391.7,1108.1 L956.2,1108.2"/>
<path class="c f" d="M6.2,1172.2 L40.2,1171.8 L52.2,1171.3 L57.7,1170.6 L60.2,1170.0 L61.7,1169.3 L62.7,1168.5 L63.7,1167.2 L64.2,1166.3 L64.7,1165.2 L65.2,1163.9 L65.7,1162.2 L66.2,1160.2 L66.7,1157.8 L67.2,1154.9 L67.7,1151.6 L68.2,1147.7 L68.7,1143.3 L69.2,1138.3 L69.7,1132.8 L70.2,1126.7 L70.7,1120.3 L71.2,1113.5 L72.7,1092.5 L73.2,1085.8 L73.7,1079.7 L74.2,1074.3 L74.7,1069.9 L75.2,1066.6 L75.7,1064.8 L76.2,1064.3 L76.7,1065.3 L77.2,1067.8 L77.7,1071.5 L78.2,1076.3 L78.7,1082.0 L79.2,1088.4 L79.7,1095.2 L81.2,1116.2 L81.7,1122.9 L82.2,1129.2 L82.7,1135.0 L83.2,1140.3 L83.7,1145.1 L84.2,1149.3 L84.7,1153.0 L85.2,1156.1 L85.7,1158.8 L86.2,1161.0 L86.7,1162.9 L87.2,1164.4 L87.7,1165.7 L88.2,1166.7 L88.7,1167.5 L89.7,1168.7 L91.2,1169.7 L93.2,1170.4 L97.7,1171.1 L107.2,1171.7 L130.2,1172.1 L219.7,1172.1 L261.2,1171.8 L276.2,1171.3 L283.7,1170.6 L288.2,1169.8 L291.2,1168.7 L292.7,1167.8 L293.7,1166.9 L294.7,1165.5 L295.2,1164.5 L295.7,1163.3 L296.2,1161.8 L296.7,1159.9 L297.2,1157.6 L297.7,1154.8 L298.2,1151.3 L298.7,1147.2 L299.2,1142.4 L299.7,1136.7 L300.2,1130.2 L300.7,1122.8 L301.2,1114.5 L301.7,1105.5 L302.2,1095.8 L302.7,1085.5 L303.7,1064.2 L304.2,1053.7 L304.7,1043.8 L305.2,1034.7 L305.7,1027.0 L306.2,1021.0 L306.7,1017.0 L307.2,1015.3 L307.7,1016.1 L308.2,1019.1 L308.7,1024.4 L309.2,1031.5 L309.7,1040.0 L310.2,1049.7 L310.7,1060.0 L311.7,1081.3 L312.2,1091.8 L312.7,1101.7 L313.2,1111.0 L313.7,1119.6 L314.2,1127.3 L314.7,1134.2 L315.2,1140.2 L315.7,1145.4 L316.2,1149.8 L316.7,1153.5 L317.2,1156.5 L317.7,1159.1 L318.2,1161.1 L318.7,1162.8 L319.2,1164.1 L319.7,1165.1 L320.2,1166.0 L321.2,1167.2 L322.7,1168.4 L324.7,1169.3 L328.7,1170.3 L335.2,1171.1 L347.2,1171.7 L376.2,1172.1 L540.7,1172.3 L956.2,1172.3"/>
<path class="c f" d="M6.2,1236.6 L293.7,1236.6 L294.2,1236.4 L296.2,1236.0 L298.7,1234.9 L300.7,1233.7 L301.7,1232.5 L304.2,1228.8 L305.2,1227.6 L306.7,1226.5 L308.7,1225.3 L309.2,1224.8 L309.7,1224.1 L310.2,1223.1 L311.7,1219.6 L312.2,1218.6 L312.7,1217.8 L313.2,1217.4 L313.7,1217.6 L314.2,1218.1 L315.2,1220.0 L316.2,1221.9 L316.7,1222.5 L318.2,1223.5 L319.7,1224.4 L320.7,1225.3 L321.7,1227.0 L323.2,1229.8 L323.7,1230.7 L325.2,1232.4 L326.7,1233.7 L328.2,1234.6 L331.7,1235.7 L335.7,1236.3 L340.2,1236.6 L479.7,1236.6 L480.2,1236.4 L482.2,1235.9 L484.7,1234.7 L486.2,1233.8 L487.2,1232.8 L490.2,1228.4 L491.2,1227.3 L494.2,1225.4 L494.7,1225.0 L495.2,1224.4 L495.7,1223.5 L497.7,1218.9 L498.2,1218.1 L498.7,1217.5 L499.2,1217.4 L499.7,1217.8 L500.2,1218.6 L501.7,1221.6 L502.2,1222.3 L503.2,1223.1 L505.7,1224.6 L506.2,1225.1 L506.7,1225.7 L507.7,1227.5 L509.2,1230.3 L510.2,1231.6 L512.2,1233.6 L513.7,1234.5 L517.2,1235.7 L520.7,1236.2 L526.2,1236.6 L571.7,1236.6 L572.2,1236.4 L576.2,1235.9 L580.7,1234.8 L584.2,1233.3 L586.2,1232.2 L587.7,1230.8 L590.7,1227.6 L593.2,1225.2 L594.2,1224.6 L596.2,1224.1 L598.2,1223.7 L598.7,1223.5 L599.7,1222.3 L600.7,1221.0 L601.2,1220.7 L601.7,1220.8 L602.2,1221.2 L604.2,1224.1 L605.2,1224.8 L608.2,1226.1 L608.7,1226.5 L609.7,1227.8 L611.2,1230.2 L611.7,1230.8 L613.2,1232.0 L615.7,1233.3 L621.2,1235.4 L624.2,1236.1 L630.2,1236.5 L637.2,1236.6 L956.2,1236.6"/>
<path class="c f" d="M6.2,1301.4 L157.2,1301.3 L162.7,1301.1 L164.7,1300.7 L166.2,1299.9 L167.2,1299.1 L168.7,1297.2 L171.2,1293.4 L172.2,1292.4 L172.7,1292.1 L173.2,1292.1 L173.7,1292.3 L174.2,1292.7 L175.2,1293.9 L177.7,1297.8 L178.7,1299.0 L180.2,1300.2 L181.7,1300.8 L184.7,1301.2 L209.7,1301.4 L956.2,1301.4"/>
<path class="c f" d="M6.2,1368.9 L74.7,1368.7 L92.7,1368.2 L100.7,1367.6 L103.7,1367.1 L105.7,1366.3 L107.2,1365.2 L108.2,1364.1 L109.2,1362.4 L109.7,1361.4 L110.2,1360.1 L110.7,1358.7 L111.2,1357.0 L111.7,1355.0 L112.2,1352.8 L112.7,1350.3 L113.2,1347.4 L113.7,1344.3 L114.2,1340.9 L114.7,1337.1 L115.2,1333.1 L115.7,1328.8 L116.2,1324.3 L118.2,1305.4 L118.7,1300.9 L119.2,1296.6 L119.7,1292.6 L120.2,1289.1 L120.7,1286.1 L121.2,1283.9 L121.7,1282.3 L122.2,1281.6 L122.7,1281.6 L123.2,1282.6 L123.7,1284.3 L124.2,1286.7 L124.7,1289.7 L125.2,1293.3 L125.7,1297.4 L126.2,1301.8 L127.2,1311.1 L128.2,1320.6 L128.7,1325.2 L129.2,1329.7 L129.7,1333.9 L130.2,1337.9 L130.7,1341.6 L131.2,1345.0 L131.7,1348.0 L132.2,1350.8 L132.7,1353.3 L133.2,1355.4 L133.7,1357.3 L134.2,1359.0 L134.7,1360.4 L135.2,1361.6 L135.7,1362.6 L136.7,1364.2 L137.7,1365.3 L139.2,1366.3 L141.2,1367.1 L145.2,1367.8 L154.7,1368.4 L177.2,1368.8 L290.7,1369.0 L450.7,1369.0 L456.7,1368.3 L460.2,1367.3 L462.2,1366.3 L463.7,1365.3 L464.7,1364.3 L465.2,1363.6 L465.7,1362.8 L466.2,1361.7 L466.7,1360.2 L467.2,1358.5 L467.7,1356.4 L468.2,1354.2 L468.7,1351.7 L469.2,1348.3 L469.7,1344.1 L470.2,1339.2 L471.2,1328.7 L471.7,1323.1 L472.2,1316.9 L472.7,1310.5 L473.2,1304.4 L473.7,1298.7 L474.2,1293.4 L474.7,1288.3 L475.2,1283.4 L475.7,1278.9 L476.2,1275.1 L476.7,1271.7 L477.2,1268.1 L477.7,1263.8 L478.2,1257.8 L478.7,1249.8 L479.2,1240.7 L479.7,1232.1 L480.2,1223.8 L480.7,1214.6 L481.2,1207.5 L481.7,1205.6 L482.2,1209.0 L482.7,1215.0 L483.2,1221.4 L483.7,1230.3 L484.2,1240.0 L484.7,1246.6 L485.2,1248.5 L485.7,1249.4 L486.7,1250.7 L487.2,1251.9 L487.7,1254.9 L488.2,1261.4 L489.2,1278.0 L489.7,1285.7 L490.2,1294.0 L490.7,1302.5 L491.2,1310.8 L491.7,1318.2 L492.7,1331.2 L493.2,1337.2 L493.7,1342.4 L494.2,1346.4 L494.7,1349.5 L495.2,1352.2 L495.7,1354.6 L496.2,1356.6 L496.7,1358.3 L497.2,1359.5 L498.2,1361.0 L499.7,1362.8 L501.2,1364.1 L503.2,1365.0 L505.7,1365.7 L508.2,1365.9 L512.7,1365.8 L513.7,1365.4 L515.2,1364.2 L517.7,1361.7 L519.2,1359.6 L524.2,1351.4 L528.7,1343.4 L530.2,1340.7 L531.2,1338.6 L531.7,1337.3 L532.2,1335.8 L532.7,1333.9 L533.2,1331.8 L534.7,1324.9 L535.2,1322.4 L536.2,1317.0 L537.7,1308.6 L538.2,1306.0 L539.7,1299.3 L540.2,1297.3 L540.7,1295.5 L541.2,1294.2 L542.2,1292.0 L544.7,1287.7 L545.2,1287.0 L545.7,1286.4 L546.2,1286.1 L546.7,1286.1 L547.2,1286.8 L548.2,1289.0 L548.7,1289.7 L549.2,1289.7 L549.7,1289.1 L550.7,1287.4 L551.2,1286.9 L551.7,1286.9 L552.2,1287.9 L552.7,1289.5 L553.2,1291.3 L553.7,1293.5 L554.7,1300.1 L555.2,1302.3 L555.7,1303.2 L557.2,1305.0 L557.7,1306.0 L558.2,1308.5 L558.7,1312.4 L559.2,1316.5 L559.7,1319.8 L560.2,1322.3 L560.7,1324.5 L561.2,1326.5 L561.7,1328.3 L562.2,1329.8 L562.7,1331.0 L563.7,1333.0 L565.2,1335.6 L565.7,1336.7 L566.2,1337.9 L566.7,1339.5 L568.7,1346.9 L569.2,1348.5 L569.7,1349.7 L570.7,1351.7 L574.2,1357.2 L576.7,1361.3 L577.7,1362.7 L579.2,1364.1 L581.7,1365.8 L583.7,1366.8 L587.2,1367.7 L593.2,1368.5 L599.2,1368.9 L600.2,1369.0 L956.2,1369.0"/>
<path class="c f" d="M6.2,1432.2 L83.2,1432.0 L96.7,1431.6 L100.7,1431.1 L103.2,1430.3 L104.7,1429.4 L106.2,1428.1 L107.7,1426.3 L109.2,1423.9 L110.7,1420.9 L112.7,1416.3 L114.7,1411.5 L115.7,1409.3 L116.7,1407.6 L117.7,1406.3 L118.2,1405.9 L118.7,1405.7 L119.2,1405.6 L119.7,1405.7 L120.2,1406.0 L121.2,1407.1 L122.2,1408.8 L123.7,1411.9 L127.2,1420.3 L128.7,1423.3 L130.2,1425.9 L131.7,1427.8 L133.2,1429.2 L134.7,1430.1 L136.7,1430.9 L140.2,1431.5 L149.7,1431.9 L195.2,1432.1 L432.2,1432.2 L432.7,1431.5 L435.7,1430.7 L439.2,1429.2 L441.2,1428.0 L443.2,1426.2 L443.7,1425.7 L444.2,1425.0 L444.7,1424.1 L445.7,1421.7 L447.7,1416.2 L448.7,1412.9 L450.7,1405.9 L452.2,1401.5 L454.2,1396.3 L455.2,1393.8 L456.2,1390.9 L456.7,1389.8 L457.2,1389.1 L457.7,1389.4 L458.2,1390.9 L459.2,1395.2 L459.7,1396.8 L460.2,1397.4 L461.2,1398.1 L462.7,1398.7 L463.2,1399.1 L463.7,1399.7 L464.2,1400.9 L464.7,1402.8 L466.2,1409.9 L466.7,1412.5 L467.7,1418.2 L468.2,1420.6 L468.7,1422.2 L469.7,1424.5 L470.7,1426.3 L471.7,1427.6 L473.2,1428.9 L475.2,1430.0 L478.2,1431.0 L481.7,1431.7 L482.2,1431.7 L482.7,1432.2 L512.2,1432.2 L512.7,1431.4 L516.2,1430.2 L520.2,1428.3 L522.2,1427.0 L523.7,1425.5 L524.2,1424.8 L524.7,1423.8 L525.7,1421.3 L527.7,1415.7 L528.7,1412.4 L530.2,1407.1 L531.2,1403.9 L533.2,1398.1 L534.2,1395.7 L535.7,1392.7 L536.2,1391.9 L536.7,1391.6 L537.2,1391.7 L537.7,1392.1 L539.2,1394.0 L540.2,1394.9 L542.2,1396.1 L542.7,1396.5 L543.2,1397.7 L543.7,1399.8 L544.7,1404.9 L545.2,1407.0 L546.2,1410.1 L547.7,1414.0 L549.7,1418.6 L551.2,1421.5 L553.2,1424.9 L554.7,1427.0 L555.7,1428.1 L557.7,1429.3 L561.2,1430.6 L565.2,1431.6 L565.7,1431.7 L566.2,1432.2 L956.2,1432.2"/>
<path class="c f" d="M6.2,1497.7 L81.7,1497.5 L93.7,1497.1 L97.2,1496.7 L99.7,1495.8 L101.7,1494.5 L103.2,1493.1 L104.7,1491.2 L106.2,1488.9 L108.2,1485.2 L110.7,1480.3 L112.2,1477.9 L113.2,1476.8 L114.2,1476.2 L115.2,1476.1 L116.2,1476.7 L117.2,1477.7 L118.2,1479.1 L119.7,1481.8 L122.7,1487.6 L124.2,1490.2 L125.7,1492.3 L127.2,1493.9 L128.7,1495.1 L130.7,1496.1 L133.2,1496.8 L137.7,1497.2 L157.7,1497.6 L285.2,1497.6 L304.2,1497.4 L308.2,1497.0 L310.7,1496.3 L312.7,1495.3 L314.7,1493.8 L316.7,1491.7 L320.7,1487.0 L322.2,1485.7 L323.2,1485.2 L324.2,1485.1 L325.2,1485.4 L326.7,1486.4 L328.7,1488.6 L331.7,1492.2 L333.7,1494.2 L335.7,1495.6 L337.7,1496.4 L340.7,1497.1 L346.7,1497.4 L387.2,1497.6 L409.2,1497.4 L413.7,1497.0 L416.7,1496.2 L418.7,1495.3 L420.7,1493.9 L423.2,1491.6 L426.7,1488.0 L428.2,1486.8 L429.7,1486.2 L431.2,1486.2 L432.7,1486.9 L434.2,1488.1 L439.2,1493.1 L441.2,1494.7 L443.2,1495.9 L445.7,1496.7 L449.2,1497.2 L458.7,1497.5 L503.7,1497.5 L511.7,1497.3 L514.2,1496.9 L516.2,1496.1 L517.7,1495.1 L519.7,1493.2 L522.2,1490.2 L525.2,1486.2 L526.2,1485.3 L527.2,1484.7 L529.2,1484.5 L531.2,1484.6 L532.2,1484.9 L533.2,1485.6 L534.7,1487.4 L537.7,1491.4 L540.2,1494.1 L542.2,1495.7 L544.2,1496.7 L546.7,1497.3 L554.2,1497.5 L661.2,1497.7 L956.2,1497.7"/>
<path class="c f" d="M6.2,1561.9 L20.7,1561.4 L26.7,1560.9 L28.7,1560.4 L30.2,1559.6 L31.2,1558.7 L31.7,1558.1 L32.2,1557.2 L32.7,1556.2 L33.2,1554.9 L33.7,1553.2 L34.2,1551.3 L34.7,1548.9 L35.2,1546.2 L35.7,1542.9 L36.2,1539.3 L36.7,1535.2 L37.2,1530.7 L37.7,1525.9 L39.2,1510.6 L39.7,1505.6 L40.2,1501.1 L40.7,1497.2 L41.2,1494.0 L41.7,1491.9 L42.2,1490.8 L42.7,1490.9 L43.2,1492.2 L43.7,1494.6 L44.2,1497.9 L44.7,1502.0 L45.2,1506.6 L45.7,1511.6 L46.7,1521.9 L47.2,1526.9 L47.7,1531.6 L48.2,1536.0 L48.7,1540.0 L49.2,1543.6 L49.7,1546.7 L50.2,1549.4 L50.7,1551.7 L51.2,1553.6 L51.7,1555.1 L52.2,1556.4 L52.7,1557.4 L53.2,1558.2 L54.2,1559.3 L55.7,1560.2 L58.2,1560.9 L64.7,1561.5 L80.7,1561.9 L132.7,1562.1 L133.2,1561.8 L135.2,1561.4 L136.7,1560.8 L137.7,1559.9 L138.7,1558.5 L139.7,1556.7 L140.2,1555.2 L140.7,1553.3 L141.2,1551.1 L142.7,1543.9 L143.7,1539.4 L144.7,1534.4 L145.2,1532.0 L145.7,1530.0 L146.2,1528.4 L146.7,1527.2 L148.2,1524.7 L149.2,1522.6 L149.7,1521.3 L150.2,1519.5 L150.7,1516.3 L151.2,1510.4 L152.2,1496.5 L153.2,1484.8 L153.7,1480.3 L154.2,1476.5 L154.7,1475.2 L155.2,1477.5 L155.7,1481.1 L156.2,1486.1 L156.7,1491.3 L157.2,1494.8 L157.7,1498.0 L158.2,1500.5 L158.7,1502.0 L159.2,1501.6 L159.7,1499.3 L160.2,1496.2 L161.2,1491.1 L161.7,1488.7 L162.2,1487.3 L162.7,1487.8 L163.2,1491.0 L163.7,1495.3 L164.2,1500.0 L164.7,1505.7 L165.2,1511.1 L165.7,1516.3 L166.2,1521.0 L166.7,1524.3 L167.2,1527.0 L167.7,1528.5 L168.2,1527.7 L168.7,1524.7 L169.2,1520.9 L169.7,1516.4 L170.2,1510.5 L171.2,1496.7 L171.7,1490.1 L172.7,1475.8 L173.2,1469.4 L173.7,1464.1 L174.2,1459.5 L174.7,1455.7 L175.2,1453.2 L175.7,1451.3 L176.2,1451.6 L176.7,1454.0 L177.2,1457.3 L177.7,1462.3 L178.7,1473.7 L179.2,1479.8 L179.7,1485.2 L180.2,1489.6 L180.7,1493.7 L181.2,1496.9 L181.7,1498.7 L182.2,1499.7 L183.2,1501.3 L184.2,1503.4 L184.7,1504.7 L185.2,1506.3 L185.7,1508.8 L186.2,1512.9 L186.7,1517.5 L187.2,1521.7 L188.2,1529.5 L188.7,1533.1 L189.7,1539.9 L190.2,1543.0 L190.7,1545.7 L191.2,1547.9 L191.7,1549.8 L192.2,1551.4 L192.7,1552.8 L193.7,1554.9 L194.7,1556.6 L195.7,1557.8 L197.2,1558.9 L200.7,1560.7 L202.7,1561.4 L203.2,1562.1 L223.7,1562.1 L224.2,1561.8 L225.7,1561.5 L227.7,1560.4 L228.2,1560.0 L228.7,1559.4 L229.2,1558.4 L230.2,1555.9 L230.7,1554.5 L231.2,1552.6 L232.2,1548.1 L232.7,1545.4 L233.2,1542.3 L233.7,1539.4 L234.2,1537.3 L234.7,1535.5 L235.2,1534.0 L235.7,1533.1 L236.7,1532.5 L238.2,1531.7 L238.7,1531.3 L239.2,1530.5 L239.7,1528.8 L240.7,1524.5 L241.7,1520.5 L242.2,1518.7 L242.7,1517.8 L243.2,1517.2 L243.7,1517.2 L244.2,1518.2 L244.7,1519.8 L245.2,1522.0 L245.7,1525.3 L246.7,1531.0 L247.2,1533.4 L247.7,1535.0 L248.2,1536.3 L248.7,1537.4 L249.7,1539.1 L250.7,1540.2 L251.7,1541.2 L252.2,1541.9 L252.7,1543.0 L253.7,1545.8 L254.2,1547.5 L255.2,1551.8 L255.7,1553.5 L256.7,1555.9 L257.2,1556.9 L257.7,1557.7 L259.2,1559.4 L260.7,1560.4 L263.2,1561.4 L264.7,1561.7 L265.2,1562.1 L956.2,1562.1"/>
<path class="c f" d="M6.2,1626.2 L206.7,1626.1 L215.2,1625.8 L217.2,1625.4 L218.7,1624.6 L219.7,1623.6 L220.7,1622.2 L221.7,1620.3 L224.2,1614.5 L224.7,1613.6 L225.2,1612.8 L225.7,1612.4 L226.2,1612.2 L226.7,1612.4 L227.2,1612.8 L227.7,1613.6 L228.7,1615.6 L230.7,1620.3 L231.7,1622.2 L232.7,1623.6 L233.7,1624.6 L235.2,1625.4 L237.2,1625.8 L246.2,1626.1 L525.7,1626.2 L956.2,1626.2"/>
<path class="c f" d="M6.2,1690.5 L12.2,1689.8 L18.7,1688.3 L25.7,1686.7 L29.2,1686.3 L32.7,1686.5 L37.2,1687.3 L46.2,1689.5 L52.2,1690.4 L60.2,1690.8 L106.7,1691.0 L713.7,1690.9 L728.2,1690.6 L731.2,1690.2 L732.7,1689.5 L733.7,1688.6 L734.2,1687.9 L734.7,1687.0 L735.2,1685.9 L735.7,1684.7 L736.7,1681.6 L738.2,1676.4 L738.7,1674.8 L739.2,1673.5 L739.7,1672.4 L740.2,1671.7 L740.7,1671.3 L741.2,1671.2 L743.2,1671.3 L744.7,1671.1 L745.2,1671.2 L745.7,1671.6 L746.2,1672.2 L746.7,1673.2 L747.2,1674.5 L748.2,1677.8 L749.7,1682.9 L750.2,1684.4 L750.7,1685.7 L751.2,1686.8 L751.7,1687.7 L752.2,1688.4 L753.2,1689.4 L754.7,1690.2 L757.7,1690.6 L771.7,1690.9 L956.2,1691.0"/>
<path class="c f" d="M6.2,1756.7 L327.7,1756.5 L362.2,1756.2 L373.7,1755.7 L378.7,1755.0 L381.2,1754.3 L382.2,1753.8 L383.2,1752.8 L383.7,1752.0 L384.2,1751.0 L384.7,1749.6 L385.2,1747.8 L385.7,1745.5 L386.2,1742.6 L386.7,1739.0 L387.2,1735.0 L387.7,1730.4 L388.7,1720.5 L389.2,1715.9 L389.7,1711.9 L390.2,1709.1 L390.7,1707.8 L391.2,1708.2 L391.7,1710.2 L392.2,1713.5 L392.7,1717.7 L393.7,1726.8 L394.2,1731.2 L394.7,1735.0 L395.2,1738.2 L395.7,1740.5 L396.2,1742.1 L396.7,1742.9 L397.2,1742.8 L397.7,1741.8 L398.2,1740.0 L398.7,1737.2 L399.2,1733.6 L399.7,1729.0 L400.2,1723.6 L400.7,1717.3 L401.2,1710.3 L401.7,1702.9 L402.2,1695.3 L402.7,1688.0 L403.2,1681.3 L403.7,1675.9 L404.2,1672.1 L404.7,1670.5 L405.2,1671.3 L405.7,1674.3 L406.2,1679.2 L406.7,1685.5 L407.2,1692.7 L408.2,1708.0 L408.7,1715.3 L409.2,1722.0 L409.7,1728.0 L410.2,1733.2 L410.7,1737.6 L411.2,1741.3 L411.7,1744.2 L412.2,1746.4 L412.7,1748.2 L413.2,1749.6 L413.7,1750.6 L414.2,1751.3 L415.2,1752.3 L416.7,1753.1 L419.2,1753.7 L422.2,1753.7 L424.7,1753.4 L426.2,1752.9 L427.2,1752.1 L427.7,1751.5 L428.2,1750.7 L428.7,1749.6 L429.2,1748.2 L429.7,1746.2 L430.2,1743.7 L430.7,1740.5 L431.2,1736.6 L431.7,1732.1 L432.2,1727.0 L432.7,1721.4 L433.2,1715.7 L433.7,1710.1 L434.2,1705.2 L434.7,1701.3 L435.2,1698.9 L435.7,1698.2 L436.2,1699.2 L436.7,1701.3 L437.7,1707.2 L438.2,1709.8 L438.7,1711.7 L439.2,1712.6 L439.7,1712.5 L440.2,1711.2 L440.7,1709.0 L441.2,1706.1 L442.2,1699.7 L442.7,1696.9 L443.2,1695.1 L443.7,1694.3 L444.2,1694.9 L444.7,1696.6 L445.2,1699.2 L445.7,1702.3 L446.7,1708.7 L447.2,1711.5 L447.7,1713.8 L448.2,1715.7 L449.7,1720.4 L450.2,1722.3 L450.7,1724.4 L451.7,1729.0 L452.2,1731.0 L452.7,1732.4 L453.2,1733.2 L453.7,1733.3 L454.2,1732.8 L454.7,1731.6 L456.2,1726.8 L456.7,1725.8 L457.2,1725.5 L457.7,1726.2 L458.2,1727.7 L458.7,1730.0 L459.2,1732.7 L460.2,1738.8 L460.7,1741.6 L461.2,1744.2 L461.7,1746.5 L462.2,1748.5 L462.7,1750.0 L463.2,1751.3 L463.7,1752.2 L464.2,1752.9 L465.2,1753.9 L466.7,1754.6 L470.2,1755.2 L478.2,1755.8 L496.2,1756.0 L518.2,1755.7 L530.7,1755.0 L538.2,1754.1 L543.2,1753.1 L546.7,1751.9 L549.2,1750.7 L551.2,1749.3 L552.7,1747.9 L554.2,1746.1 L555.2,1744.5 L555.7,1743.5 L556.2,1742.3 L556.7,1740.9 L557.2,1739.2 L557.7,1737.1 L558.2,1734.3 L558.7,1730.8 L559.2,1726.1 L559.7,1720.1 L560.2,1712.4 L560.7,1702.4 L561.2,1689.8 L561.7,1674.0 L562.2,1654.8 L562.7,1631.6 L563.2,1604.4 L563.7,1573.2 L564.2,1538.3 L564.7,1500.4 L565.2,1460.4 L565.7,1419.7 L566.2,1380.1 L566.7,1343.6 L567.2,1312.7 L567.7,1289.9 L568.2,1277.3 L568.7,1276.1 L569.2,1286.5 L569.7,1307.5 L570.2,1336.9 L570.7,1372.4 L571.2,1411.6 L571.7,1452.3 L572.2,1492.5 L572.7,1531.0 L573.2,1566.5 L573.7,1598.5 L574.2,1626.5 L574.7,1650.4 L575.2,1670.5 L575.7,1686.9 L576.2,1700.1 L576.7,1710.6 L577.2,1718.8 L577.7,1725.1 L578.2,1729.9 L578.7,1733.7 L579.2,1736.6 L579.7,1738.8 L580.2,1740.6 L580.7,1742.1 L581.2,1743.3 L582.2,1745.2 L583.2,1746.7 L584.7,1748.4 L586.7,1750.0 L589.2,1751.5 L592.7,1752.8 L597.2,1753.9 L604.2,1754.9 L615.7,1755.6 L637.7,1756.2 L698.2,1756.5 L956.2,1756.7"/>
<path class="c f" d="M6.2,1818.0 L10.2,1817.4 L13.2,1816.5 L15.7,1815.2 L21.2,1811.6 L23.2,1810.8 L24.7,1810.7 L26.2,1811.1 L28.2,1812.1 L33.2,1815.4 L35.7,1816.6 L38.7,1817.5 L42.7,1818.0 L56.7,1818.2 L363.7,1818.2 L369.7,1818.0 L372.2,1817.5 L374.7,1816.4 L377.2,1815.3 L378.7,1815.2 L380.7,1815.7 L382.7,1816.4 L384.2,1816.5 L385.7,1816.0 L387.2,1814.9 L389.7,1812.9 L390.7,1812.3 L391.7,1812.2 L392.7,1812.5 L394.2,1813.6 L397.2,1816.2 L398.7,1817.1 L400.7,1817.7 L404.2,1818.1 L414.2,1818.0 L417.2,1817.7 L419.7,1817.0 L423.7,1815.2 L425.7,1814.8 L428.7,1814.8 L430.7,1814.3 L433.7,1813.0 L435.2,1813.0 L436.7,1813.6 L439.2,1815.0 L440.7,1815.5 L442.2,1815.6 L445.7,1815.0 L447.2,1815.2 L452.2,1817.3 L454.7,1817.9 L460.2,1818.1 L500.7,1818.1 L509.7,1817.8 L512.2,1817.3 L513.7,1816.6 L515.2,1815.5 L516.7,1813.8 L518.2,1811.5 L520.2,1808.2 L521.2,1806.9 L522.2,1805.9 L523.2,1805.6 L524.2,1805.7 L527.2,1807.1 L529.7,1807.7 L530.7,1808.5 L531.7,1809.8 L534.2,1813.9 L535.2,1815.2 L536.2,1816.1 L537.7,1816.9 L539.7,1817.2 L544.2,1816.9 L547.7,1816.3 L549.7,1815.5 L551.2,1814.4 L552.2,1813.2 L552.7,1812.3 L553.2,1811.3 L553.7,1809.9 L554.2,1808.2 L554.7,1806.3 L555.2,1803.9 L555.7,1801.2 L556.2,1798.1 L557.2,1791.3 L557.7,1787.8 L558.2,1784.7 L558.7,1782.2 L559.2,1780.8 L559.7,1780.7 L560.2,1781.9 L560.7,1784.1 L561.2,1787.2 L562.7,1797.5 L563.2,1800.6 L563.7,1803.4 L564.2,1805.8 L564.7,1807.9 L565.2,1809.6 L565.7,1811.0 L566.2,1812.2 L566.7,1813.1 L567.7,1814.4 L568.7,1815.2 L570.2,1816.0 L573.2,1816.8 L577.7,1817.2 L582.7,1817.1 L587.2,1816.5 L596.2,1814.4 L599.2,1814.1 L602.2,1814.4 L607.2,1815.6 L613.2,1817.1 L618.7,1817.8 L627.7,1818.1 L770.7,1818.3 L956.2,1818.3"/>
<path class="c f" d="M6.2,1884.2 L32.2,1883.9 L39.2,1883.5 L42.2,1883.0 L44.2,1882.3 L45.7,1881.4 L47.2,1880.2 L48.7,1878.4 L50.2,1875.9 L51.2,1873.8 L52.7,1870.2 L54.2,1865.9 L57.7,1855.0 L58.7,1852.3 L59.7,1850.0 L60.2,1849.1 L60.7,1848.4 L61.2,1847.8 L61.7,1847.5 L62.2,1847.4 L62.7,1847.5 L63.2,1847.8 L63.7,1848.4 L64.2,1849.1 L64.7,1850.0 L65.7,1852.3 L66.7,1855.0 L69.2,1862.8 L70.7,1867.4 L72.2,1871.5 L73.2,1873.8 L74.2,1875.9 L75.7,1878.4 L77.2,1880.2 L78.7,1881.4 L80.7,1882.5 L83.2,1883.2 L87.7,1883.7 L103.2,1884.1 L165.7,1884.3 L217.7,1884.1 L232.2,1883.6 L238.2,1883.0 L240.7,1882.4 L242.2,1881.7 L243.7,1880.5 L244.7,1879.3 L245.7,1877.6 L246.7,1875.4 L247.7,1872.6 L248.7,1869.2 L249.7,1865.1 L250.7,1860.6 L252.7,1851.0 L253.2,1848.8 L253.7,1846.7 L254.2,1844.9 L254.7,1843.4 L255.2,1842.3 L255.7,1841.6 L256.2,1841.4 L256.7,1841.6 L257.2,1842.3 L257.7,1843.4 L258.2,1844.9 L258.7,1846.7 L259.2,1848.8 L260.2,1853.3 L262.2,1862.9 L263.2,1867.2 L264.2,1871.0 L264.7,1872.6 L265.7,1875.4 L266.7,1877.6 L267.7,1879.3 L268.7,1880.5 L270.2,1881.7 L272.2,1882.6 L275.2,1883.2 L282.7,1883.8 L301.7,1884.2 L400.2,1884.4 L956.2,1884.4"/>
<path class="c f" d="M6.2,1950.9 L167.7,1950.7 L186.2,1950.4 L191.2,1950.0 L193.2,1949.4 L194.7,1948.6 L195.7,1947.6 L196.7,1946.2 L197.2,1945.2 L197.7,1944.1 L198.2,1942.8 L198.7,1941.3 L199.2,1939.6 L199.7,1937.8 L200.7,1933.6 L202.7,1924.5 L203.2,1922.3 L203.7,1920.4 L204.2,1918.7 L204.7,1917.4 L205.2,1916.5 L205.7,1915.9 L206.2,1915.7 L206.7,1916.0 L207.2,1916.5 L207.7,1917.3 L208.7,1919.4 L210.7,1924.4 L212.2,1928.5 L213.2,1931.7 L215.2,1938.6 L216.2,1941.8 L217.2,1944.4 L218.2,1946.3 L219.2,1947.7 L220.2,1948.7 L221.7,1949.4 L224.2,1949.9 L230.7,1950.0 L234.7,1949.7 L236.7,1949.2 L238.2,1948.3 L239.2,1947.2 L240.2,1945.7 L240.7,1944.6 L241.2,1943.5 L241.7,1942.1 L242.2,1940.5 L242.7,1938.8 L243.7,1934.9 L246.2,1923.9 L246.7,1921.9 L247.2,1920.2 L247.7,1918.7 L248.2,1917.6 L248.7,1916.9 L249.2,1916.5 L249.7,1916.5 L250.2,1916.9 L250.7,1917.5 L251.7,1919.3 L253.2,1922.8 L254.7,1926.7 L255.7,1929.8 L258.7,1940.2 L259.7,1943.2 L260.7,1945.5 L261.7,1947.2 L262.7,1948.4 L263.7,1949.2 L265.2,1949.8 L268.2,1950.2 L279.7,1950.6 L334.7,1950.9 L956.2,1950.9"/>
<path d="M6.2,1975.4 L956.2,1975.4" stroke="#120c0c" stroke-width="3.5" fill="none"/>
<path d="M58.2,1975.4 v16.6 M122.2,1975.4 v9 M186.3,1975.4 v16.6 M250.3,1975.4 v9 M314.4,1975.4 v16.6 M378.4,1975.4 v9 M442.5,1975.4 v16.6 M506.5,1975.4 v9 M570.6,1975.4 v16.6 M634.6,1975.4 v9 M698.7,1975.4 v16.6 M762.8,1975.4 v9 M826.8,1975.4 v16.6 M890.9,1975.4 v9 M954.9,1975.4 v16.6" stroke="#120c0c" stroke-width="3.1" fill="none"/>
<text class="k" x="58.8" y="2025.3">4.0</text>
<text class="k" x="186.9" y="2025.3">3.5</text>
<text class="k" x="315.0" y="2025.3">3.0</text>
<text class="k" x="443.1" y="2025.3">2.5</text>
<text class="k" x="571.2" y="2025.3">2.0</text>
<text class="k" x="699.3" y="2025.3">1.5</text>
<text class="k" x="827.4" y="2025.3">1.0</text>
<text class="k" x="924" y="2025">ppm</text>
<text class="k" x="885.3" y="709.3">MM</text>
<text class="k" x="885.3" y="774.1">Ala</text>
<text class="k" x="885.3" y="838.4">Asc</text>
<text class="k" x="885.3" y="902.3">Asp</text>
<text class="k" x="885.3" y="968">GPC</text>
<text class="k" x="885.3" y="1032.7">PC</text>
<text class="k" x="885.3" y="1097">Cr</text>
<text class="k" x="885.3" y="1162.3">PCr</text>
<text class="k" x="885.3" y="1225.8">GABA</text>
<text class="k" x="885.3" y="1288.1">Gly</text>
<text class="k" x="885.3" y="1354.3">Glu</text>
<text class="k" x="885.3" y="1418.6">Gln</text>
<text class="k" x="885.3" y="1484.1">GSH</text>
<text class="k" x="885.3" y="1545.8"><tspan font-style="italic">myo</tspan>-Ins</text>
<text class="k" x="885.3" y="1612.3"><tspan font-style="italic">scyllo</tspan>-Ins</text>
<text class="k" x="885.3" y="1677">Lac</text>
<text class="k" x="885.3" y="1742.3">NAA</text>
<text class="k" x="885.3" y="1806">NAAG</text>
<text class="k" x="885.3" y="1871">PE</text>
<text class="k" x="885.3" y="1936">Tau</text>
<text class="k" x="887.8" y="360" font-style="italic">in vivo</text>
<text class="k" x="887.4" y="396.5">spectrum</text>
<text class="b" transform="translate(79.6,164.0) scale(0.805,1)">Cr</text>
<text class="b" transform="translate(79.4,201.7) scale(0.805,1)">PCr</text>
<text class="b" transform="translate(122.3,241.9) scale(0.805,1)">Asc</text>
<text class="b" transform="translate(122.3,279.6) scale(0.805,1)">Gln</text>
<text class="b" transform="translate(122.3,318.40000000000003) scale(0.805,1)">Glu</text>
<text class="b" transform="translate(121.8,357.1) scale(0.805,1)">GSH</text>
<text class="b" transform="translate(44.2,448.70000000000005) scale(0.805,1)">Ins</text>
<text class="b" transform="translate(167.7,465.1) scale(0.805,1)">Ins</text>
<text class="b" transform="translate(207.7,531.1) scale(0.805,1)">Tau</text>
<text class="b" transform="translate(259.9,359.5) scale(0.805,1)">GPC</text>
<text class="b" transform="translate(259.5,397.3) scale(0.805,1)">PC</text>
<text class="b" transform="translate(305,198.29999999999998) scale(0.805,1)">Cr</text>
<text class="b" transform="translate(304.8,237.1) scale(0.805,1)">PCr</text>
<text class="b" transform="translate(360.2,569.1) scale(0.805,1)">Asp</text>
<text class="b" transform="translate(419.2,513.7) scale(0.805,1)">NAA</text>
<text class="b" transform="translate(454.9,464.6) scale(0.805,1)">Gln</text>
<text class="b" transform="translate(479.5,424.1) scale(0.805,1)">Glu</text>
<text class="b" transform="translate(711.9,504.70000000000005) scale(0.805,1)">Ala</text>
<text class="b" transform="translate(744.2,468.1) scale(0.805,1)">Lac</text>
<text class="b" transform="translate(848.5,534.6) scale(0.805,1)">MM</text>
<text class="b" font-style="italic" transform="translate(43.7,412.2) scale(0.805,1)">myo-</text>
<text class="b" font-style="italic" transform="translate(167.2,427.3) scale(0.805,1)">myo-</text>
<text class="b" style="fill:#1b1a5e;stroke:#1b1a5e" transform="translate(568.8,28.6) scale(0.805,1)">NAA</text>
<text class="b" transform="translate(521.6,484) rotate(-90) scale(0.805,1)">GABA</text>
<path class="d" d="M79,212.5 V374"/>
<path class="d" d="M120.8,367.8 V429"/>
<path class="d" d="M43.6,462.4 V521.4"/>
<path class="d" d="M207.2,542.6 V586"/>
<path class="d" d="M457.9,476 V536.6"/>
<path class="d" d="M712.5,518 V574.5"/>
<path class="d" d="M744.5,479.6 V572.8"/>
<path class="s" d="M140,483.6 V472.3 H188 V483.6"/>
<path class="s" d="M381.3,534.6 V522.9 H453.3 V534.6"/>
</svg></body></html>
